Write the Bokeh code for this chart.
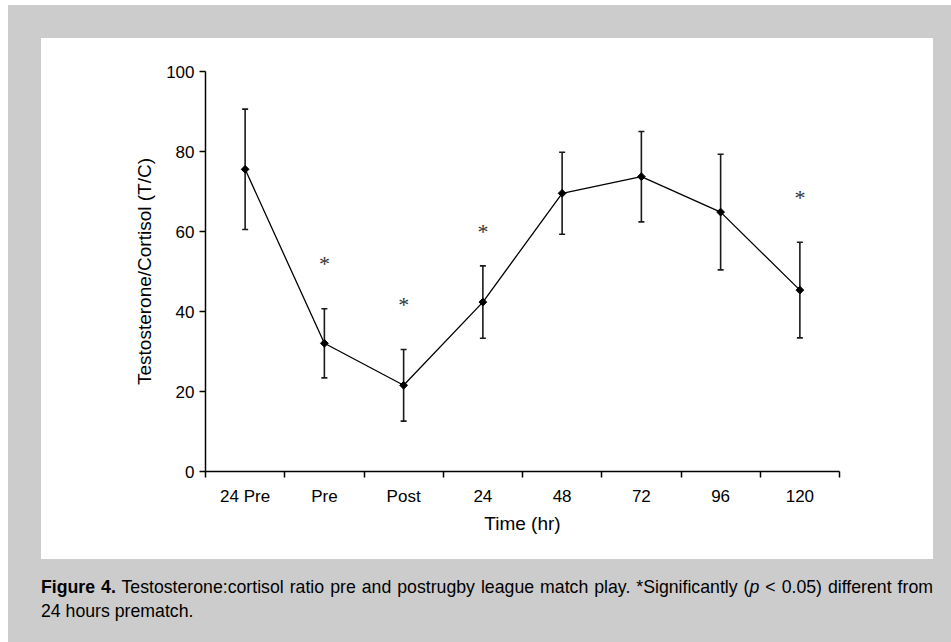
import numpy as np
from bokeh.plotting import figure
from bokeh.layouts import column, row
from bokeh.models import (Range1d, FixedTicker, Whisker, TeeHead, ColumnDataSource,
                          Spacer, Div)
from bokeh.core.properties import value
from bokeh.embed import file_html
from bokeh.resources import INLINE

# ---- data ----
categories = ["24 Pre", "Pre", "Post", "24", "48", "72", "96", "120"]
tc_mean = [75.55, 32.05, 21.55, 42.35, 69.55, 73.7, 64.85, 45.35]
tc_sd = [15.05, 8.65, 8.95, 9.05, 10.25, 11.3, 14.45, 11.95]
star_cats = ["Pre", "Post", "24", "120"]
star_y = [52.3, 42.0, 60.2, 68.7]
y_ticks = [0, 20, 40, 60, 80, 100]

FONT = "Liberation Sans"
GRAY = "#cccccc"

x_pos = [i + 0.5 for i in range(len(categories))]
src = ColumnDataSource(dict(
    x=x_pos, y=tc_mean,
    upper=[m + s for m, s in zip(tc_mean, tc_sd)],
    lower=[m - s for m, s in zip(tc_mean, tc_sd)],
))
star_src = ColumnDataSource(dict(
    x=[categories.index(c) + 0.5 for c in star_cats], y=star_y, t=["*"] * len(star_cats)))

PW, PH = 892, 521
p = figure(width=PW, height=PH, x_range=Range1d(0, len(categories)), y_range=Range1d(0, 100),
           output_backend="svg", toolbar_location=None,
           min_border_left=164, min_border_right=94, min_border_top=33, min_border_bottom=88,
           border_fill_color="white", background_fill_color="white", outline_line_color=None)
p.xgrid.visible = False
p.ygrid.visible = False

# y axis
ya = p.yaxis[0]
ya.ticker = FixedTicker(ticks=y_ticks, minor_ticks=[])
ya.axis_line_width = 1.5
ya.axis_line_color = "black"
ya.major_tick_line_width = 1.5
ya.major_tick_out = 6
ya.major_tick_in = 0
ya.minor_tick_line_color = None
ya.major_label_text_font = FONT
ya.major_label_text_font_size = "17px"
ya.major_label_text_color = "black"
ya.major_label_standoff = 5
ya.axis_label = "Testosterone/Cortisol (T/C)"
ya.axis_label_text_font = FONT
ya.axis_label_text_font_size = "19px"
ya.axis_label_text_font_style = "normal"
ya.axis_label_text_color = "black"
ya.axis_label_standoff = 8

# x axis
xa = p.xaxis[0]
xa.ticker = FixedTicker(ticks=x_pos, minor_ticks=list(range(len(categories) + 1)))
xa.major_label_overrides = {x: c for x, c in zip(x_pos, categories)}
xa.axis_line_width = 1.5
xa.axis_line_color = "black"
xa.major_tick_out = 0
xa.major_tick_in = 0
xa.major_tick_line_color = None
xa.minor_tick_out = 6
xa.minor_tick_in = 0
xa.minor_tick_line_width = 1.5
xa.minor_tick_line_color = "black"
xa.major_label_text_font = FONT
xa.major_label_text_font_size = "17px"
xa.major_label_text_color = "black"
xa.major_label_standoff = 9
xa.axis_label = "Time (hr)"
xa.axis_label_text_font = FONT
xa.axis_label_text_font_size = "19px"
xa.axis_label_text_font_style = "normal"
xa.axis_label_text_color = "black"
xa.axis_label_standoff = 4

# error bars
p.add_layout(Whisker(source=src, base="x", upper="upper", lower="lower",
                     line_color="#1a1a1a", line_width=1.6,
                     upper_head=TeeHead(size=6, line_color="#1a1a1a", line_width=1.6),
                     lower_head=TeeHead(size=6, line_color="#1a1a1a", line_width=1.6)))
p.line("x", "y", source=src, line_color="black", line_width=1.3)
p.scatter("x", "y", source=src, marker="square", size=5.5, angle=np.pi / 4,
          fill_color="black", line_color="black")

# significance asterisks
p.text("x", "y", text="t", source=star_src, text_font=value("Liberation Serif"),
       text_font_size="22px", text_align="center", text_baseline="alphabetic",
       y_offset=1, text_color="#333333")

# caption
cap_html = (
    '<div style="width:892px; height:83px; box-sizing:border-box; background-color:#cccccc; '
    'font-family:\'Liberation Sans\', Arial, sans-serif; '
    'font-size:17.7px; line-height:24px; color:black; padding-top:16px; margin:0;">'
    '<div style="width:892px; text-align:justify; text-align-last:justify;">'
    '<b>Figure 4.</b> Testosterone:cortisol ratio pre and postrugby league match play. '
    '*Significantly (<i>p</i> &lt; 0.05) different from</div>'
    '<div>24 hours prematch.</div></div>'
)
caption = Div(text=cap_html, width=892, height=83, margin=0,
              styles={"background-color": GRAY})


def gray(w, h):
    return Spacer(width=w, height=h, margin=0, styles={"background-color": GRAY})


body = column(
    gray(943, 33),
    row(gray(33, PH), p, gray(18, PH)),
    row(gray(33, 83), caption, gray(18, 83)),
)
root = column(Spacer(width=951, height=5, margin=0),
              row(Spacer(width=8, height=637, margin=0), body))

open("out.html", "w").write(file_html(root, INLINE))
